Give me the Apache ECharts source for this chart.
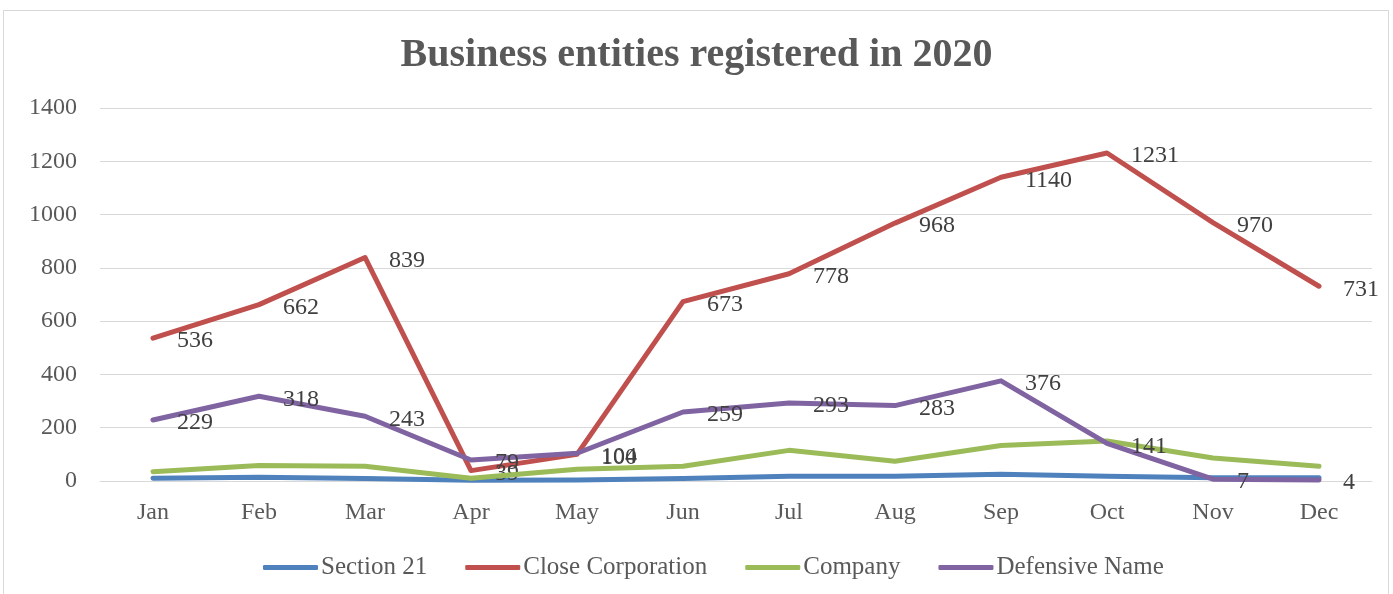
<!DOCTYPE html>
<html>
<head>
<meta charset="utf-8">
<script src="https://cdn.jsdelivr.net/npm/echarts@6/dist/echarts.min.js"></script>
<style>
  html, body { margin: 0; padding: 0; background: #fff; }
  #frame { position: absolute; left: 3px; top: 10px; width: 1386px; height: 600px; border: 1px solid #d9d9d9; box-sizing: border-box; }
  #chart { position: absolute; left: 0; top: 0; width: 1393px; height: 594px; }
</style>
</head>
<body>
<div id="frame"></div>
<div id="chart"></div>
<script>
const titleText = 'Business entities registered in 2020';
const months = ['Jan', 'Feb', 'Mar', 'Apr', 'May', 'Jun', 'Jul', 'Aug', 'Sep', 'Oct', 'Nov', 'Dec'];
const yTicks = { min: 0, max: 1400, interval: 200 };

const section21 = [10, 14, 9, 3, 4, 9, 18, 18, 25, 18, 12, 12];
const closeCorporation = [536, 662, 839, 39, 100, 673, 778, 968, 1140, 1231, 970, 731];
const company = [35, 58, 55, 10, 44, 55, 115, 74, 133, 150, 86, 55];
const defensiveName = [229, 318, 243, 79, 104, 259, 293, 283, 376, 141, 7, 4];

const seriesNames = ['Section 21', 'Close Corporation', 'Company', 'Defensive Name'];
const seriesColors = ['#4F81BD', '#C0504D', '#9BBB59', '#8064A2'];
const seriesData = [section21, closeCorporation, company, defensiveName];
const labelled = [false, true, false, true];

const FONT = '"Liberation Serif", "DejaVu Serif", serif';

const chart = echarts.init(document.getElementById('chart'), null, { renderer: 'canvas' });
chart.setOption({
  animation: false,
  backgroundColor: 'transparent',
  textStyle: { fontFamily: FONT },
  title: {
    text: titleText,
    left: 'center',
    top: 31,
    textStyle: { fontFamily: FONT, fontSize: 40, fontWeight: 'bold', color: '#595959' }
  },
  grid: { left: 100, right: 21, top: 108, bottom: 113, containLabel: false },
  legend: {
    data: seriesNames,
    left: 258,
    top: 550,
    icon: 'roundRect',
    itemWidth: 55,
    itemHeight: 5,
    itemGap: 38,
    textStyle: { fontFamily: FONT, fontSize: 25, color: '#595959', padding: [0, 0, 0, -2] }
  },
  xAxis: {
    type: 'category',
    data: months,
    boundaryGap: true,
    axisLine: { show: true, lineStyle: { color: '#d9d9d9', width: 1 } },
    axisTick: { show: false },
    axisLabel: { fontFamily: FONT, fontSize: 24, color: '#595959', margin: 20 }
  },
  yAxis: {
    type: 'value',
    min: yTicks.min,
    max: yTicks.max,
    interval: yTicks.interval,
    axisLine: { show: false },
    axisTick: { show: false },
    splitLine: { lineStyle: { color: '#d9d9d9', width: 1 } },
    axisLabel: { fontFamily: FONT, fontSize: 24, color: '#595959', margin: 23, formatter: v => String(v) }
  },
  series: seriesNames.map((name, i) => ({
    name: name,
    type: 'line',
    data: seriesData[i],
    symbol: 'circle',
    symbolSize: 0,
    showSymbol: true,
    itemStyle: { color: seriesColors[i] },
    lineStyle: { color: seriesColors[i], width: 5, cap: 'round', join: 'round' },
    label: {
      show: labelled[i],
      position: 'right',
      distance: 24,
      offset: [0, 3],
      fontFamily: FONT,
      fontSize: 24,
      color: '#404040'
    },
    emphasis: { disabled: true },
    z: 2 + i
  }))
});
</script>
</body>
</html>
